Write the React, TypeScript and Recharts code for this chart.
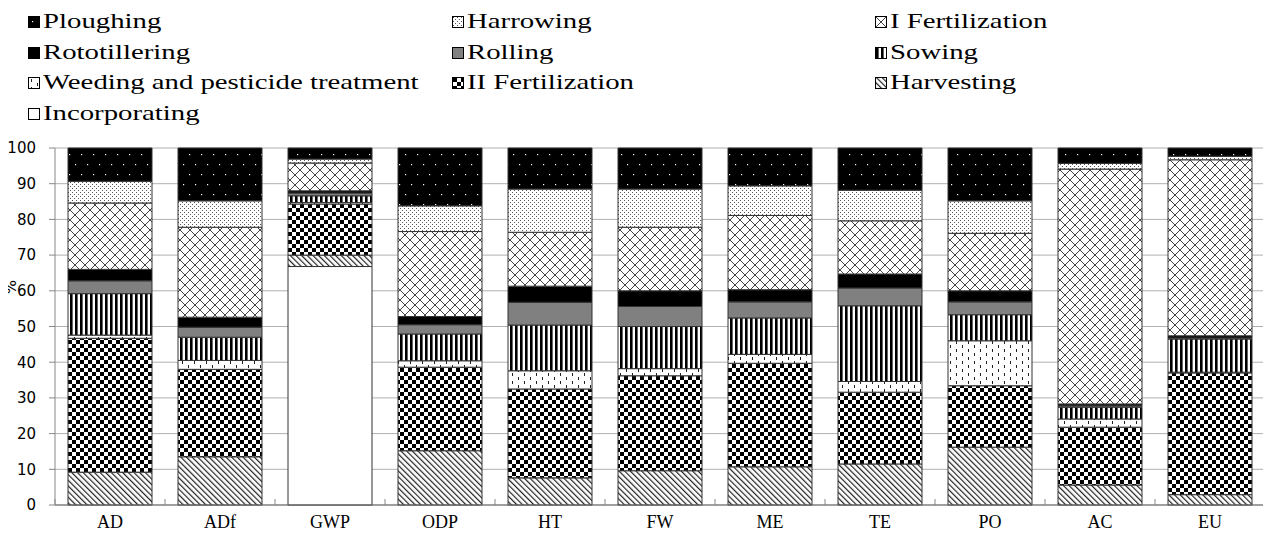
import { BarChart, Bar, XAxis, YAxis, CartesianGrid } from "recharts";

const categories = ["AD", "ADf", "GWP", "ODP", "HT", "FW", "ME", "TE", "PO", "AC", "EU"];

// values in %, one per category, stacked bottom -> top
const incorporating = [0, 0, 66.8, 0, 0, 0, 0, 0, 0, 0, 0];
const harvesting = [9.2, 13.5, 3.2, 15.2, 7.6, 9.6, 10.7, 11.5, 16.2, 5.6, 2.9];
const fertilization2 = [37.5, 24.5, 14.3, 23.4, 24.9, 26.6, 29.0, 20.1, 17.2, 16.2, 34.1];
const weeding = [0.9, 2.5, 0.4, 1.8, 5.1, 2.0, 2.5, 3.0, 12.6, 2.3, 0.2];
const sowing = [11.6, 6.5, 1.9, 7.5, 12.8, 11.8, 10.2, 21.2, 7.3, 3.3, 9.3];
const rolling = [3.6, 2.8, 0.8, 2.6, 6.4, 5.6, 4.5, 5.0, 3.6, 0.4, 0.3];
const rototillering = [3.2, 2.8, 0.6, 2.3, 4.5, 4.4, 3.4, 3.9, 3.1, 0.5, 0.6];
const fertilization1 = [18.6, 25.2, 7.8, 23.8, 15.1, 17.8, 20.8, 14.9, 16.1, 65.8, 49.3];
const harrowing = [6.1, 7.4, 1.1, 7.2, 12.1, 10.7, 8.3, 8.6, 9.1, 1.6, 1.0];
const ploughing = [9.3, 14.8, 3.1, 16.2, 11.5, 11.5, 10.6, 11.8, 14.8, 4.3, 2.3];

const yTicks = [0, 10, 20, 30, 40, 50, 60, 70, 80, 90, 100];

const SERIF = "'Liberation Serif', 'Times New Roman', Tinos, 'DejaVu Serif', 'Noto Serif', serif";
const SANS = "'DejaVu Sans', Verdana, sans-serif";

const series = [
  { key: "inc", name: "Incorporating", values: incorporating, fill: "#ffffff" },
  { key: "harv", name: "Harvesting", values: harvesting, fill: "url(#pHarv)" },
  { key: "fert2", name: "II Fertilization", values: fertilization2, fill: "url(#pChecker)" },
  { key: "weed", name: "Weeding and pesticide treatment", values: weeding, fill: "url(#pWeed)" },
  { key: "sow", name: "Sowing", values: sowing, fill: "url(#pSow)" },
  { key: "roll", name: "Rolling", values: rolling, fill: "#808080" },
  { key: "roto", name: "Rototillering", values: rototillering, fill: "#000000" },
  { key: "fert1", name: "I Fertilization", values: fertilization1, fill: "url(#pCross)" },
  { key: "harr", name: "Harrowing", values: harrowing, fill: "url(#pHarr)" },
  { key: "plough", name: "Ploughing", values: ploughing, fill: "url(#pPlough)" },
];

const data = categories.map((name, i) => {
  const row: any = { name };
  series.forEach((s) => {
    row[s.key] = s.values[i];
  });
  return row;
});

// legend reads top-down, reverse of stacking
const legendItems = [...series].reverse();
const legendCols = [28, 452, 875];

function Patterns() {
  return (
    <svg width={0} height={0} style={{ position: "absolute" }}>
      <defs>
        <pattern id="pPlough" width={12} height={20} patternUnits="userSpaceOnUse">
          <rect width={12} height={20} fill="#000" />
          <rect x={3} y={4} width={1.2} height={1.2} fill="#fff" />
          <rect x={9} y={14} width={1.2} height={1.2} fill="#fff" />
        </pattern>
        <pattern id="pHarr" width={4} height={4} patternUnits="userSpaceOnUse">
          <rect width={4} height={4} fill="#fff" />
          <rect x={0} y={0} width={1} height={1} fill="#555" />
          <rect x={2} y={2} width={1} height={1} fill="#555" />
        </pattern>
        <pattern id="pCross" width={10} height={10} patternUnits="userSpaceOnUse">
          <rect width={10} height={10} fill="#fff" />
          <path d="M0,0 L10,10 M10,0 L0,10" stroke="#444" strokeWidth={1} />
        </pattern>
        <pattern id="pSow" width={5} height={5} patternUnits="userSpaceOnUse">
          <rect width={5} height={5} fill="#fff" />
          <rect x={0} y={0} width={2.6} height={5} fill="#000" />
        </pattern>
        <pattern id="pWeed" width={12} height={8} patternUnits="userSpaceOnUse">
          <rect width={12} height={8} fill="#fff" />
          <rect x={2} y={1} width={1} height={3} fill="#222" />
          <rect x={8} y={5} width={1} height={3} fill="#222" />
        </pattern>
        <pattern id="pChecker" width={8} height={8} patternUnits="userSpaceOnUse">
          <rect width={8} height={8} fill="#fff" />
          <rect x={0} y={0} width={4} height={4} fill="#000" />
          <rect x={4} y={4} width={4} height={4} fill="#000" />
        </pattern>
        <pattern
          id="pHarv"
          width={4}
          height={4}
          patternUnits="userSpaceOnUse"
          patternTransform="rotate(-45)"
        >
          <rect width={4} height={4} fill="#fff" />
          <rect x={0} y={0} width={1.2} height={4} fill="#222" />
        </pattern>
      </defs>
    </svg>
  );
}

// label plus boundary tick marks between the categories
function CategoryTick(props: any) {
  const { x, y, payload } = props;
  const half = payload?.offset || 55;
  const last = payload?.value === categories[categories.length - 1];
  return (
    <g>
      <line x1={x - half} x2={x - half} y1={y - 12} y2={y - 6} stroke="#888" />
      {last && <line x1={x + half} x2={x + half} y1={y - 12} y2={y - 6} stroke="#888" />}
      <text x={x} y={y + 17} textAnchor="middle" fontFamily={SERIF} fontSize={18} fill="#000">
        {payload.value}
      </text>
    </g>
  );
}

function PercentLabel(props: any) {
  const vb = props.viewBox || { x: 0 };
  const cx = vb.x + 11;
  const cy = 287;
  return (
    <text
      x={cx}
      y={cy}
      transform={`rotate(-90, ${cx}, ${cy})`}
      textAnchor="middle"
      dominantBaseline="central"
      fontFamily={SANS}
      fontSize={15}
      fill="#000"
    >
      %
    </text>
  );
}

export default function App() {
  return (
    <div
      style={{
        position: "relative",
        width: 1271,
        height: 540,
        margin: -8,
        background: "#fff",
      }}
    >
      <Patterns />
      {legendItems.map((s, i) => {
        const col = i % 3;
        const row = Math.floor(i / 3);
        return (
          <div key={s.key}>
            <div
              style={{
                position: "absolute",
                left: legendCols[col],
                top: 16 + row * 30.7,
                width: 10,
                height: 10,
                border: "1px solid #000",
                overflow: "hidden",
              }}
            >
              <svg width={10} height={10} style={{ display: "block" }}>
                <rect width={10} height={10} fill={s.fill} />
              </svg>
            </div>
            <div
              style={{
                position: "absolute",
                left: legendCols[col] + 15,
                top: 9 + row * 30.7,
                fontFamily: SERIF,
                fontSize: 21,
                lineHeight: "24px",
                whiteSpace: "nowrap",
                color: "#000",
                transform: "scaleX(1.37)",
                transformOrigin: "left center",
              }}
            >
              {s.name}
            </div>
          </div>
        );
      })}
      <div style={{ position: "absolute", left: 0, top: 0 }}>
        <BarChart
          width={1271}
          height={540}
          data={data}
          margin={{ top: 148, right: 6, bottom: 0, left: 0 }}
          barSize={84}
        >
          <CartesianGrid vertical={false} stroke="#b0b0b0" />
          <XAxis
            dataKey="name"
            height={35}
            interval={0}
            tickLine={false}
            tickSize={6}
            tickMargin={0}
            axisLine={{ stroke: "#666" }}
            tick={<CategoryTick />}
          />
          <YAxis
            width={55}
            domain={[0, 100]}
            ticks={yTicks}
            interval={0}
            tickSize={6}
            tickMargin={13}
            tickLine={{ stroke: "#888" }}
            axisLine={{ stroke: "#888" }}
            tick={{ fill: "#000", fontSize: 15, fontFamily: SANS }}
            label={<PercentLabel />}
          />
          {series.map((s) => (
            <Bar
              key={s.key}
              dataKey={s.key}
              name={s.name}
              stackId="a"
              fill={s.fill}
              stroke="#333"
              strokeWidth={1}
              isAnimationActive={false}
            />
          ))}
        </BarChart>
      </div>
    </div>
  );
}
